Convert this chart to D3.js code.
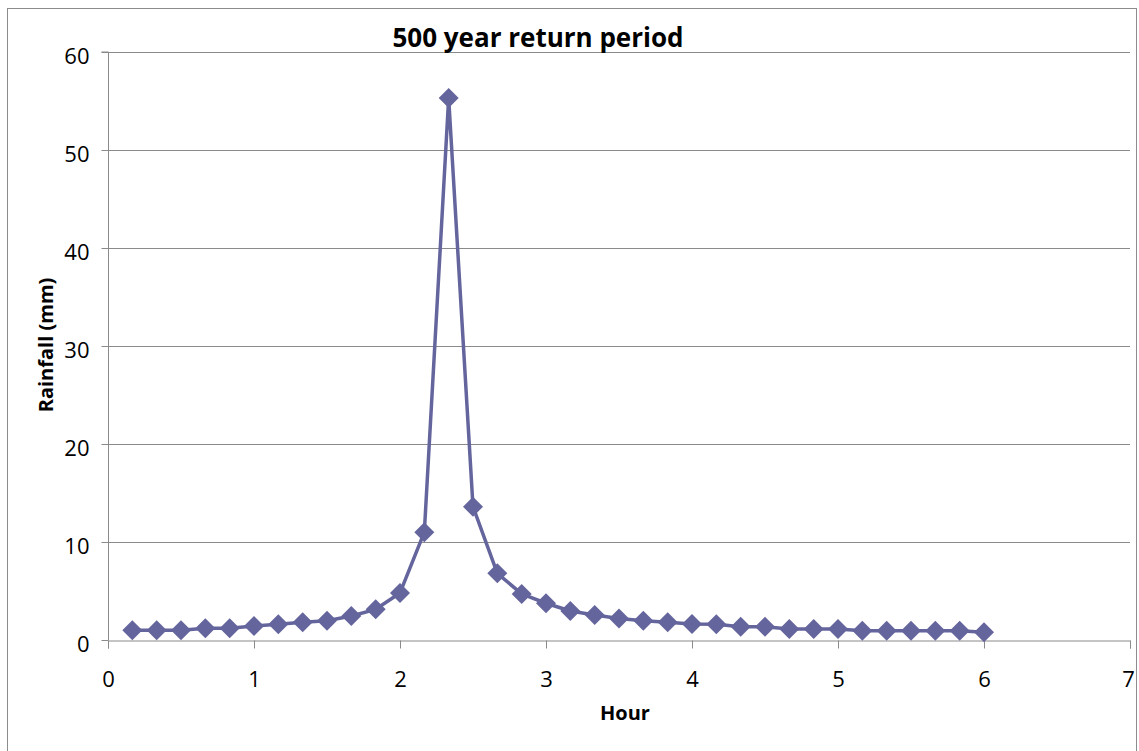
<!DOCTYPE html>
<html>
<head>
<meta charset="utf-8">
<script src="https://cdn.jsdelivr.net/npm/d3@7"></script>
<style>
  body { margin: 0; background: #fff; }
  text { font-family: "Open Sans", "Noto Sans", sans-serif; }
</style>
</head>
<body>
<script>
// hours: one point every 10 minutes, 1/6 .. 6
let hours = d3.range(1, 37).map((i) => i / 6);
let rainfall = [1.0, 1.0, 1.0, 1.2, 1.2, 1.43, 1.6, 1.8, 1.97, 2.45, 3.13, 4.8,
                11.0, 55.3, 13.6, 6.8, 4.7, 3.75, 2.96, 2.55, 2.2, 1.97, 1.8, 1.63,
                1.6, 1.36, 1.36, 1.12, 1.12, 1.12, 0.95, 0.95, 0.95, 0.95, 0.95, 0.78];
let xTicks = [0, 1, 2, 3, 4, 5, 6, 7];
let yTicks = [0, 10, 20, 30, 40, 50, 60];

let width = 1139;
let height = 751;
let margin = {left: 108, right: 9, top: 52, bottom: 111};

let x = d3.scaleLinear().domain([0, 7]).range([margin.left, width - margin.right]);
let y = d3.scaleLinear().domain([0, 60]).range([height - margin.bottom, margin.top]);

let svg = d3.select("body").append("svg").attr("width", width).attr("height", height);

// outer chart border
svg.append("rect")
    .attr("x", 7.5).attr("y", 8.5)
    .attr("width", 1129).attr("height", 760)
    .attr("fill", "none").attr("stroke", "#8c8c8c").attr("stroke-width", 1);

// gridlines
svg.append("g").selectAll("line").data(yTicks.slice(1)).enter().append("line")
    .attr("x1", x(0)).attr("x2", x(7))
    .attr("y1", (d) => Math.round(y(d)) + 0.5).attr("y2", (d) => Math.round(y(d)) + 0.5)
    .attr("stroke", "#8a8a8a").attr("stroke-width", 1);

// y axis
let yAxis = svg.append("g")
    .attr("transform", "translate(" + (x(0) + 0.5) + ",0)")
    .call(d3.axisLeft(y).tickValues(yTicks).tickSize(7).tickPadding(12));
// x axis
let xAxis = svg.append("g")
    .attr("transform", "translate(0," + (Math.round(y(0)) + 0.5) + ")")
    .call(d3.axisBottom(x).tickValues(xTicks).tickFormat(d3.format("d")).tickSize(8).tickPadding(23));

[yAxis, xAxis].forEach((g) => {
  g.select(".domain").attr("stroke", "#8a8a8a");
  g.selectAll(".tick line").attr("stroke", "#8a8a8a");
  g.selectAll(".tick text").attr("fill", "#000").style("font-size", "22px");
});
yAxis.selectAll(".tick text").attr("dy", "0.5em");
yAxis.select(".domain").attr("d", "M-7," + y(60) + "H0V" + y(0));
xAxis.selectAll(".tick text").filter((d) => d === 7).attr("dx", "-2");

// series line
let line = d3.line().x((d, i) => x(hours[i])).y((d) => y(d));
svg.append("path").datum(rainfall)
    .attr("d", line)
    .attr("fill", "none").attr("stroke", "#65659d").attr("stroke-width", 3.5)
    .attr("stroke-linejoin", "round");

// diamond markers
let diamond = d3.symbol().type(d3.symbolSquare).size(200);
svg.append("g").selectAll("path").data(rainfall).enter().append("path")
    .attr("d", diamond)
    .attr("transform", (d, i) => "translate(" + x(hours[i]) + "," + y(d) + ") rotate(45)")
    .attr("fill", "#65659d");

// title and labels
svg.append("text")
    .attr("x", 538).attr("y", 47)
    .attr("text-anchor", "middle")
    .style("font-size", "26px").style("font-weight", "bold")
    .text("500 year return period");

svg.append("text")
    .attr("transform", "translate(53,345) rotate(-90)")
    .attr("text-anchor", "middle")
    .style("font-size", "20px").style("font-weight", "bold")
    .text("Rainfall (mm)");

svg.append("text")
    .attr("x", 625).attr("y", 720)
    .attr("text-anchor", "middle")
    .style("font-size", "20px").style("font-weight", "bold")
    .text("Hour");
</script>
</body>
</html>
